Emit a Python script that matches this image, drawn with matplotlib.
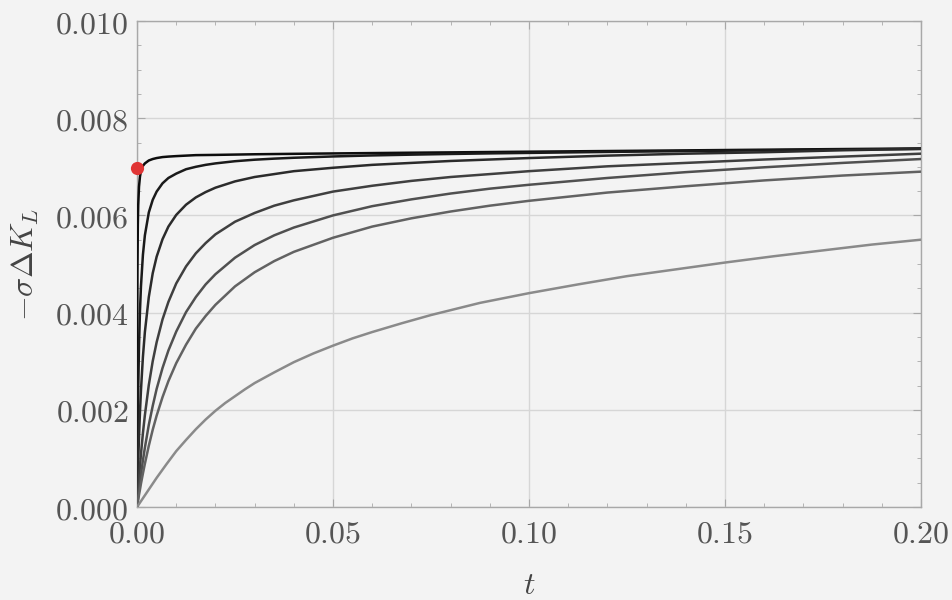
import matplotlib
matplotlib.use("Agg")
import matplotlib.pyplot as plt
from matplotlib.ticker import MultipleLocator, FuncFormatter

# ---- data (t, -sigma*Delta K_L) ----
tg = [0, 0.0001, 0.0002, 0.0003, 0.0005, 0.00075, 0.001, 0.0015, 0.002, 0.003, 0.004, 0.005,
      0.0065, 0.008, 0.01, 0.0125, 0.015, 0.0175, 0.02, 0.025, 0.03, 0.035, 0.04, 0.05, 0.06,
      0.07, 0.08, 0.09, 0.1, 0.12, 0.14, 0.16, 0.18, 0.2]

t1 = [0, 0.00005, 0.0001, 0.0002, 0.0003, 0.0005, 0.00075, 0.001, 0.0015, 0.002, 0.003, 0.004,
      0.005, 0.0065, 0.008, 0.01, 0.0125, 0.015, 0.02, 0.03, 0.04, 0.05, 0.07, 0.1, 0.125,
      0.15, 0.175, 0.2]
v1 = [0, 0.00363, 0.00483, 0.00580, 0.00621, 0.00659, 0.00680, 0.00691, 0.00702, 0.00707,
      0.00713, 0.00716, 0.00718, 0.00720, 0.00721, 0.00722, 0.00723, 0.00724, 0.007245,
      0.007258, 0.007267, 0.007275, 0.00729, 0.007311, 0.007328, 0.007345, 0.007362, 0.007378]

t2 = tg
v2 = [0, 0.00104, 0.00182, 0.00242, 0.00331, 0.00404, 0.00454, 0.00519, 0.00559, 0.00606,
      0.00632, 0.00649, 0.00666, 0.00677, 0.00686, 0.00695, 0.00700, 0.00704, 0.00707,
      0.007115, 0.007146, 0.007168, 0.007186, 0.007213, 0.007234, 0.00725, 0.007264,
      0.007276, 0.007286, 0.007306, 0.007323, 0.007339, 0.007354, 0.007368]

t3 = tg
v3 = [0, 0.00034, 0.00066, 0.00094, 0.00144, 0.00196, 0.00240, 0.00309, 0.00360, 0.00432,
      0.00481, 0.00515, 0.00551, 0.00577, 0.00601, 0.00622, 0.00637, 0.00648, 0.00657,
      0.00670, 0.00679, 0.00685, 0.00691, 0.00698, 0.00704, 0.00708, 0.00712, 0.00715,
      0.00718, 0.00723, 0.00727, 0.00730, 0.00734, 0.00737]

t4 = tg
v4 = [0, 0.00012, 0.00025, 0.00036, 0.00059, 0.00085, 0.00109, 0.00152, 0.00189, 0.00251,
      0.00300, 0.00339, 0.00386, 0.00422, 0.00460, 0.00495, 0.00522, 0.00543, 0.00561,
      0.00587, 0.00605, 0.00620, 0.00631, 0.00649, 0.00661, 0.00671, 0.00679, 0.00685,
      0.00691, 0.00701, 0.00708, 0.00715, 0.00721, 0.00727]

t5 = tg
v5 = [0, 0.00007, 0.00014, 0.00021, 0.00035, 0.00051, 0.00067, 0.00096, 0.00122, 0.00169,
      0.00208, 0.00243, 0.00286, 0.00322, 0.00361, 0.00401, 0.00432, 0.00458, 0.00479,
      0.00513, 0.00539, 0.00559, 0.00575, 0.00600, 0.00619, 0.00633, 0.00645, 0.00655,
      0.00663, 0.00677, 0.00689, 0.00699, 0.00708, 0.00716]

t6 = tg
v6 = [0, 0.00005, 0.00010, 0.00015, 0.00025, 0.00036, 0.00048, 0.00069, 0.00089, 0.00126,
      0.00159, 0.00188, 0.00226, 0.00259, 0.00296, 0.00334, 0.00367, 0.00393, 0.00416,
      0.00454, 0.00483, 0.00506, 0.00525, 0.00554, 0.00577, 0.00594, 0.00608, 0.00620,
      0.00630, 0.00647, 0.00660, 0.00672, 0.00682, 0.00690]

t7 = [0, 0.0025, 0.005, 0.0075, 0.01, 0.0125, 0.015, 0.0175, 0.02, 0.0225, 0.025, 0.0275,
      0.03, 0.035, 0.04, 0.045, 0.05, 0.055, 0.06, 0.0675, 0.075, 0.0875, 0.1, 0.1125,
      0.125, 0.1375, 0.15, 0.1625, 0.175, 0.1875, 0.2]
v7 = [0, 0.0003, 0.0006, 0.00088, 0.00115, 0.00138, 0.0016, 0.0018, 0.00198, 0.00214,
      0.00228, 0.00242, 0.00255, 0.00277, 0.00298, 0.00316, 0.00332, 0.00347, 0.0036,
      0.00378, 0.00395, 0.0042, 0.0044, 0.00458, 0.00475, 0.00489, 0.00503, 0.00516,
      0.00528, 0.0054, 0.0055]

curves = [(t1, v1), (t2, v2), (t3, v3), (t4, v4), (t5, v5), (t6, v6), (t7, v7)]
curve_colors = ["#0d0d0d", "#1a1a1a", "#2b2b2b", "#3f3f3f", "#505050", "#626262", "#8a8a8a"]

dot_t = [0.0]
dot_v = [0.00697]

xticks = [0.00, 0.05, 0.10, 0.15, 0.20]
yticks = [0.000, 0.002, 0.004, 0.006, 0.008, 0.010]

# ---- figure ----
plt.rcParams['mathtext.fontset'] = 'cm'
bg = "#f3f3f3"
fig = plt.figure(figsize=(9.53, 6.0), dpi=100, facecolor=bg)
ax = fig.add_axes([0.1438, 0.155, 0.8226, 0.81])
ax.set_facecolor(bg)

for (tt, vv), c in zip(curves, curve_colors):
    ax.plot(tt, vv, color=c, lw=1.8, solid_joinstyle='round', solid_capstyle='round', zorder=3)

ax.plot(dot_t, dot_v, 'o', color="#e03535", ms=9.5, clip_on=False, zorder=5, mec='none')

ax.set_xlim(0, 0.2)
ax.set_ylim(0, 0.010)
ax.set_xticks(xticks)
ax.set_yticks(yticks)
ax.xaxis.set_minor_locator(MultipleLocator(0.01))
ax.yaxis.set_minor_locator(MultipleLocator(0.0005))
ax.xaxis.set_major_formatter(FuncFormatter(lambda x, p: r"$%.2f$" % x))
ax.yaxis.set_major_formatter(FuncFormatter(lambda y, p: r"$%.3f$" % y))

ax.grid(True, which='major', color="#d6d6d6", lw=1.0, zorder=0)
for s in ax.spines.values():
    s.set_color("#a8a8a8")
    s.set_linewidth(1.0)
ax.tick_params(which='both', direction='in', top=True, right=True, color="#a8a8a8",
               labelcolor="#555555", labelsize=23)
ax.tick_params(which='major', length=6)
ax.tick_params(which='minor', length=3)
ax.tick_params(axis='x', pad=8)
ax.tick_params(axis='y', pad=6)

ax.set_xlabel(r"$t$", fontsize=23, color="#444444", labelpad=15)
ax.set_ylabel(r"$-\sigma\Delta K_L$", fontsize=23, color="#444444", labelpad=10)

fig.savefig("out.png", dpi=100, facecolor=bg)
